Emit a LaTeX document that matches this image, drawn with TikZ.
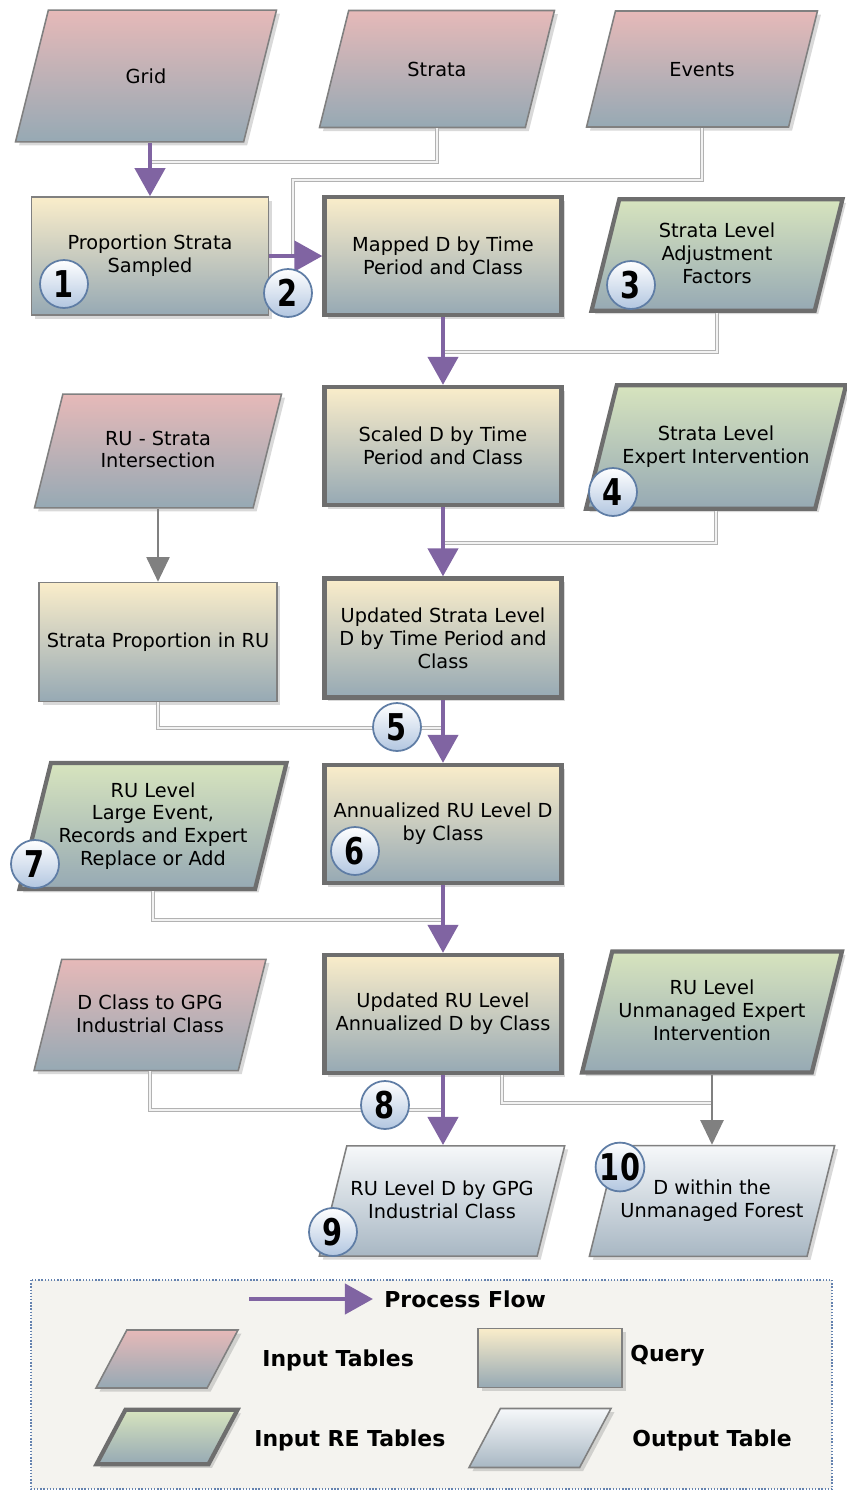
\documentclass[tikz,border=0pt]{standalone}
\usepackage{fontspec}
\setmainfont{DejaVu Sans}
\newfontfamily\badgefont{DejaVu Sans}[FakeStretch=0.78]
\usetikzlibrary{shapes.geometric,arrows.meta,shadows}

\definecolor{pinktop}{RGB}{230,185,184}
\definecolor{creamtop}{RGB}{250,237,202}
\definecolor{greentop}{RGB}{215,228,190}
\definecolor{outtop}{RGB}{246,248,250}
\definecolor{slatebot}{RGB}{150,169,180}
\definecolor{outbot}{RGB}{168,183,195}
\definecolor{edgegray}{RGB}{128,128,128}
\definecolor{boldgray}{RGB}{110,110,110}
\definecolor{flowpurple}{RGB}{128,100,162}
\definecolor{badgebot}{RGB}{178,198,224}
\definecolor{badgeedge}{RGB}{95,125,165}
\definecolor{legfill}{RGB}{244,243,239}
\definecolor{legedge}{RGB}{100,130,175}

\newcommand{\headstrut}{\rule{0pt}{11pt}}
\newcommand{\footstrut}{\rule[-2pt]{0pt}{2pt}}

\tikzset{
  box/.style={draw=edgegray, line width=0.9pt, align=center, inner sep=2pt,
    font=\fontsize{11}{13}\selectfont, bottom color=slatebot,
    drop shadow={shadow xshift=2pt, shadow yshift=-2pt, opacity=0.3}},
  para/.style={box, trapezium, trapezium left angle=76, trapezium right angle=104,
    trapezium stretches body, execute at begin node=\headstrut, execute at end node=\footstrut},
  legpara/.style={trapezium left angle=62, trapezium right angle=118},
  intab/.style={para, top color=pinktop},
  retab/.style={para, top color=greentop, draw=boldgray, line width=2.4pt},
  outtab/.style={para, top color=outtop, bottom color=outbot},
  query/.style={box, rectangle, top color=creamtop, minimum width=4.74cm, minimum height=2.36cm},
  boldquery/.style={query, draw=boldgray, line width=2.4pt},
  flow/.style={draw=flowpurple, line width=2.8pt, -{Triangle[width=17pt,length=16pt]}},
  feed/.style={draw=gray!60, line width=0.7pt, double=gray!10, double distance=1.2pt},
  feedarrow/.style={draw=black!50, line width=1.5pt, -{Triangle[width=13pt,length=14pt]}},
  badge/.style={circle, minimum size=0.96cm, inner sep=0pt, draw=badgeedge, line width=1pt,
    top color=white, bottom color=badgebot,
    font=\badgefont\bfseries\fontsize{21}{21}\selectfont},
  legtext/.style={anchor=west, inner sep=0pt, font=\bfseries\fontsize{12.5}{14}\selectfont}
}

\begin{document}
\begin{tikzpicture}[x=0.02cm, y=-0.02cm]
\useasboundingbox (0,0) rectangle (847,1492);

% tables and queries
\node (A) at (146,76) [intab, minimum width=5.22cm, inner ysep=31pt] {Grid};
\node (B) at (437,69) [intab, minimum width=4.7cm, inner ysep=26.8pt] {Strata};
\node (C) at (702,69) [intab, minimum width=4.62cm, inner ysep=26.5pt] {Events};
\node (D) at (150,256) [query] {Proportion Strata\\Sampled};
\node (E) at (443,256) [boldquery] {Mapped D by Time\\Period and Class};
\node (F) at (717,255) [retab, minimum width=5.02cm, inner ysep=13.5pt] {Strata Level\\Adjustment\\Factors};
\node (G) at (158,451) [intab, minimum width=4.94cm, inner ysep=20.8pt] {RU - Strata\\Intersection};
\node (H) at (443,446) [boldquery] {Scaled D by Time\\Period and Class};
\node (I) at (716,447) [retab, minimum width=5.2cm, inner ysep=23.3pt] {Strata Level\\Expert Intervention};
\node (J) at (158,642) [query, minimum width=4.76cm, minimum height=2.38cm] {Strata Proportion in RU};
\node (K) at (443,638) [boldquery, minimum height=2.38cm] {Updated Strata Level\\D by Time Period and\\Class};
\node (L) at (153,826) [retab, minimum width=5.34cm, inner ysep=11pt] {RU Level\\Large Event,\\Records and Expert\\Replace or Add};
\node (M) at (443,824) [boldquery] {Annualized RU Level D\\by Class};
\node (N) at (150,1015) [intab, minimum width=4.64cm, inner ysep=20pt] {D Class to GPG\\Industrial Class};
\node (O) at (443,1014) [boldquery] {Updated RU Level\\Annualized D by Class};
\node (P) at (712,1012) [retab, minimum width=5.2cm, inner ysep=16.3pt] {RU Level\\Unmanaged Expert\\Intervention};
\node (Q) at (442,1201) [outtab, minimum width=4.8cm, inner ysep=19.7pt] {RU Level D by GPG\\Industrial Class};
\node (R) at (712,1201) [outtab, minimum width=4.84cm, inner ysep=19.7pt] {D within the\\Unmanaged Forest};

% joins
\coordinate (c1) at (150,162);
\coordinate (c2) at (293,180);
\coordinate (c3) at (293,256);
\coordinate (c4) at (443,352);
\coordinate (c5) at (443,543);
\coordinate (c6) at (443,728);
\coordinate (c7) at (443,920);
\coordinate (c8) at (443,1110);
\coordinate (c9) at (712,1103);

\draw [feed] (B.center |- B.south) |- (c1);
\draw [feed] (C.center |- C.south) |- (c2) -- (c3);
\draw [feed] (F.center |- F.south) |- (c4);
\draw [feed] (I.center |- I.south) |- (c5);
\draw [feed] (J.south) |- (c6);
\draw [feed] (L.center |- L.south) |- (c7);
\draw [feed] (N.center |- N.south) |- (c8);
\draw [feed] ([xshift=1.18cm]O.south) |- (c9);
\draw [feedarrow] (G.center |- G.south) -- (J);
\draw [feedarrow] (P.center |- P.south) -- (P.center |- R.north);

\draw [flow] (A.south -| D.north) -- (D.north);
\draw [flow] (D) -- (E);
\draw [flow] (E) -- (H);
\draw [flow] (H) -- (K);
\draw [flow] (K) -- (M);
\draw [flow] (M) -- (O);
\draw [flow] (O.south) -- (O.south |- Q.north);

% step numbers
\node [badge] (n1) at (64,284) {1};
\node [badge] (n2) at (288,293) {2};
\node [badge] (n3) at (631,285) {3};
\node [badge] (n4) at (613,492) {4};
\node [badge] (n5) at (397,727) {5};
\node [badge] (n6) at (355,851) {6};
\node [badge] (n7) at (35,864) {7};
\node [badge] (n8) at (385,1105) {8};
\node [badge] (n9) at (333,1232) {9};
\node [badge] (n10) at (620,1167) {10};

% legend
\draw [densely dotted, draw=legedge, fill=legfill, line width=0.8pt] (31,1280) rectangle (832,1489);
\coordinate (la) at (249,1299);
\coordinate (lb) at (373,1299);
\draw [flow] (la) -- (lb);
\node [legtext] (lt0) at (384,1299) {Process Flow};
\node (li) at (167,1359) [intab, legpara, minimum width=2.84cm, inner ysep=10pt] {};
\node (lq) at (550,1358) [query, minimum width=2.88cm, minimum height=1.18cm] {};
\node (lr) at (167,1437) [retab, legpara, minimum width=2.82cm, inner ysep=9pt] {};
\node (lo) at (540,1438) [outtab, legpara, minimum width=2.84cm, inner ysep=10.3pt] {};
\node [legtext] (lt1) at (262,1360) {Input Tables};
\node [legtext] (lt2) at (630,1356) {Query};
\node [legtext] (lt3) at (254,1440) {Input RE Tables};
\node [legtext] (lt4) at (632,1440) {Output Table};
\end{tikzpicture}
\end{document}
